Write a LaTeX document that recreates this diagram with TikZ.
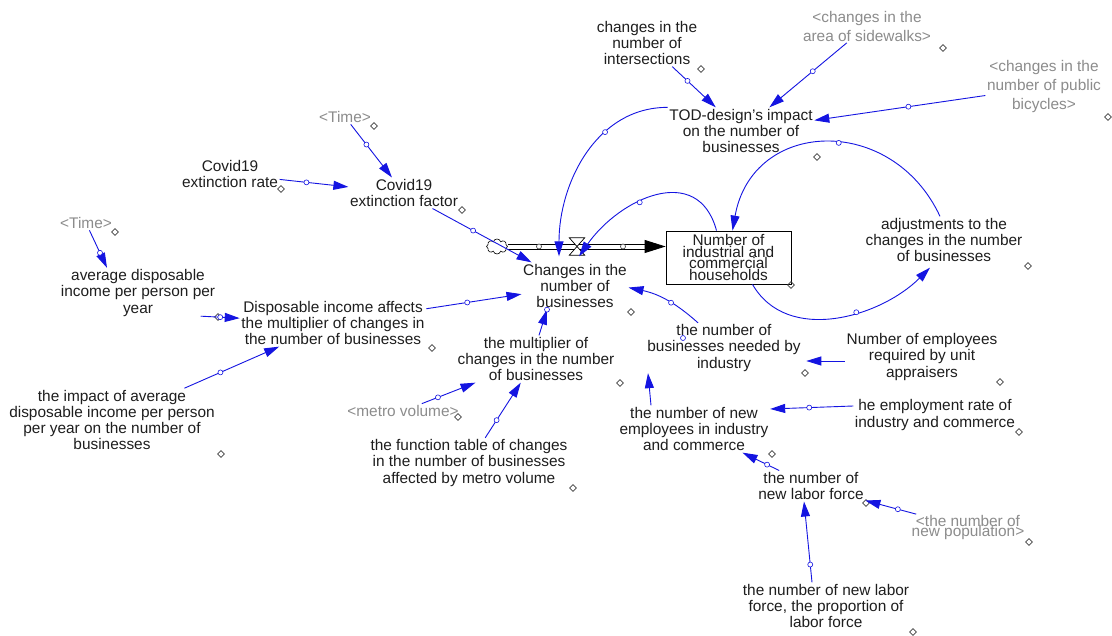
\documentclass[tikz,border=0pt]{standalone}
\usepackage{fontspec}
\setmainfont{Liberation Sans}
\usepackage{xcolor}
\usepackage{tikz}
\usetikzlibrary{arrows.meta,shapes}

\definecolor{elo}{RGB}{20,20,225}
\definecolor{sombra}{RGB}{140,140,140}
\definecolor{texto}{RGB}{30,30,30}
\newcommand{\apertado}{\lineskiplimit=-20pt\relax}

\begin{document}
\begin{tikzpicture}[
			x=1pt, y=1pt,
			var/.style={align=center, text=texto, inner sep=1.5pt, font=\fontsize{15.4}{16.3}\selectfont},
			sh/.style={var, text=sombra, font=\fontsize{15.4}{19}\selectfont\apertado},
			stk/.style={draw, line width=0.8pt, minimum width=125pt, minimum height=53pt, inner sep=0pt, align=center, text=texto, font=\fontsize{15.4}{11.4}\selectfont\apertado},
			lnk/.style={draw=elo, line width=0.9pt, -{Triangle[length=15pt,width=9pt]}},
			hnd/.style={circle, draw=elo, fill=white, line width=0.6pt, inner sep=0pt, minimum size=5pt},
			dmd/.style={diamond, draw=black!75, line width=0.6pt, inner sep=0pt, minimum size=7pt},
			pipe/.style={draw, line width=0.8pt}
			]
			
			\fill[white] (0,0) rectangle (1112,-636);
			\useasboundingbox (0,0) rectangle (1112,-636);
			
			% Estoque e fluxo
			\node[stk] (stock) at (728.5,-257.5) {Number of\\industrial and\\commercial\\households};
			\node[cloud, draw, cloud puffs=8, aspect=1.4, minimum width=21pt, minimum height=15pt, inner sep=0pt, line width=0.6pt] (cloud) at (497,-246.5) {};
			\node[minimum width=15pt, minimum height=17pt, inner sep=0pt] (valve) at (577,-246.5) {};
			\coordinate (fim) at (stock.west |- valve);
			\draw[pipe] ([yshift=2.5pt]cloud.east) -- ([shift={(-19pt,2.5pt)}]fim);
			\draw[pipe] ([yshift=-2.5pt]cloud.east) -- ([shift={(-19pt,-2.5pt)}]fim);
			\node[hnd, draw=black!80] (p1) at (539,-246.5) {};
			\node[hnd, draw=black!80] (p2) at (623,-246.5) {};
			\draw[-{Triangle[length=21pt,width=13pt]}, line width=0.8pt] ([xshift=-21pt]fim) -- (fim);
			\draw[fill=white, line width=0.7pt] (valve.north west) -- (valve.north east) -- (valve.south west) -- (valve.south east) -- cycle;
			\node[var] (chg) at (575,-286) {Changes in the\\number of\\businesses};
			
			% Variáveis
			\node[sh] (time1) at (345,-117) {<Time>};
			\node[var] (covrate) at (230,-174) {Covid19\\extinction rate};
			\node[var] (covfac) at (404,-193) {Covid19\\extinction factor};
			\node[sh] (time2) at (86,-223) {<Time>};
			\node[var] (income) at (138,-293) {average disposable\\income per person per\\year};
			\node[var] (dispinc) at (333,-323) {Disposable income affects\\the multiplier of changes in\\the number of businesses};
			\node[var] (impact) at (112,-420) {the impact of average\\disposable income per person\\per year on the number of\\businesses};
			\node[sh] (metro) at (403,-411) {<metro volume>};
			\node[var] (functab) at (469,-463) {the function table of changes\\in the number of businesses\\affected by metro volume};
			\node[var] (mult) at (536,-359) {the multiplier of\\changes in the number\\of businesses};
			\node[var] (inter) at (647,-43) {changes in the\\number of\\intersections};
			\node[var] (tod) at (741,-131) {TOD-design's impact\\on the number of\\businesses};
			\node[sh] (side) at (867,-26) {<changes in the\\area of sidewalks>};
			\node[sh] (bike) at (1044,-87) {<changes in the\\number of public\\bicycles>};
			\node[var] (adj) at (944,-240) {adjustments to the\\changes in the number\\of businesses};
			\node[var] (needed) at (724,-348) {the number of\\businesses needed by\\industry};
			\node[var] (empreq) at (922,-357) {Number of employees\\required by unit\\appraisers};
			\node[var] (emprate) at (935,-415) {he employment rate of\\industry and commerce};
			\node[var] (newemp) at (694,-429) {the number of new\\employees in industry\\and commerce};
			\node[var] (labor) at (811,-486) {the number of\\new labor force};
			\node[sh, font=\fontsize{15.4}{10}\selectfont\apertado] (newpop) at (968,-528) {<the number of\\new population>};
			\node[var] (prop) at (826,-606) {the number of new labor\\force, the proportion of\\labor force};
			
			% Marcadores
			\foreach \x/\y [count=\i] in {374/126, 281/189, 462/210, 115/232, 218/317, 432/348, 221/454, 458/417, 573/488, 620/383, 631/312, 791/285, 701/69, 817/157, 943/48, 1108/117, 1028/266, 805/373, 1000/382, 1019/432, 772/454, 866/503, 1029/542, 913/632}
				\node[dmd] (dm\i) at (\x,-\y) {};
			
			% Ligações
			\draw[lnk] (time1) -- node[hnd, pos=.38] (h1) {} (covfac);
			\draw[lnk] (covrate) -- node[hnd, pos=.39] (h2) {} (covfac);
			\draw[lnk] (covfac) -- node[hnd, pos=.41] (h3) {} (chg);
			\draw[lnk] (time2) -- node[hnd, pos=.6] (h4) {} ([xshift=-31pt]income.north);
			\draw[lnk] ([shift={(-16pt,2pt)}]income.south east) -- node[hnd, pos=.5] (h5) {} (dispinc);
			\draw[lnk] (dispinc) -- node[hnd, pos=.43] (h6) {} (chg);
			\draw[lnk] (impact) -- node[hnd, pos=.38] (h7) {} (dispinc);
			\draw[lnk] (metro) -- node[hnd, pos=.3] (h8) {} (mult);
			\draw[lnk] (functab) -- node[hnd, pos=.32] (h9) {} (mult);
			\draw[lnk] ([xshift=3pt]mult.north) -- node[hnd, pos=1] (h10) {} ([xshift=-28pt]chg.south);
			\draw[lnk] ([xshift=-26pt]needed.north) to[bend right=15] node[hnd, pos=.42] (h11) {} (chg);
			\draw[lnk] ([yshift=-4pt]empreq.west) -- ([shift={(4pt,-13pt)}]needed.east);
			\draw[lnk] ([yshift=9pt]emprate.west) -- node[hnd, pos=.53] (h12) {} ([yshift=20pt]newemp.east);
			\draw[lnk] ([xshift=-43pt]newemp.north) -- ([xshift=-76pt]needed.south);
			\node[hnd] (h0) at (683,-338) {};
			\draw[lnk] (labor) -- node[hnd, pos=.33] (h13) {} (newemp);
			\draw[lnk] (newpop) -- node[hnd, pos=.36] (h14) {} (labor);
			\draw[lnk] ([xshift=-14pt]prop.north) -- node[hnd, pos=.22] (h15) {} ([xshift=-7pt]labor.south);
			\draw[lnk] (inter) -- node[hnd, pos=.35] (h16) {} (tod);
			\draw[lnk] (side) -- node[hnd, pos=.44] (h17) {} (tod);
			\draw[lnk] (bike) -- node[hnd, pos=.45] (h18) {} (tod);
			
			% Laços de realimentação
			\draw[lnk] (tod.north west) to[out=180, in=90] node[hnd, pos=.35] (h19) {} ([shift={(-16pt,6pt)}]chg.north);
			\draw[lnk] ([xshift=-12pt]stock.north) to[out=105, in=55, looseness=1.3] node[hnd, pos=.6] (h20) {} ([shift={(4pt,6pt)}]chg.north);
			\draw[lnk] ([xshift=-4pt]adj.north) to[out=115, in=80, looseness=1.4] node[hnd, pos=.45] (h21) {} ([xshift=4pt]stock.north);
			\draw[lnk] ([xshift=24pt]stock.south) to[out=-60, in=225] node[hnd, pos=.6] (h22) {} ([shift={(-14pt,-4pt)}]adj.south);
			
		\end{tikzpicture}
\end{document}
